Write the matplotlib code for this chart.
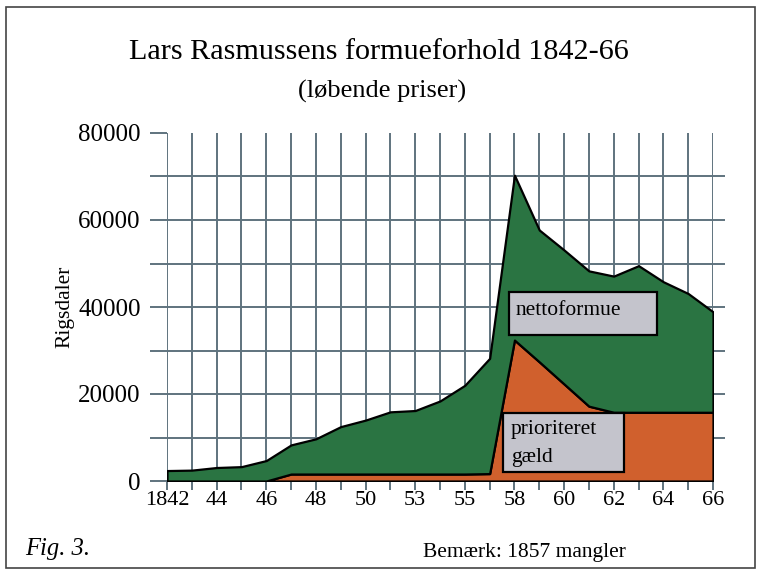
import matplotlib
matplotlib.use("Agg")
import matplotlib.pyplot as plt
from matplotlib.patches import Rectangle
import numpy as np

plt.rcParams['font.family'] = ['Liberation Serif', 'DejaVu Serif']

# aar (1857 mangler)
years = [1842, 1843, 1844, 1845, 1846, 1847, 1848, 1849, 1850, 1851, 1853,
         1854, 1855, 1856, 1858, 1859, 1860, 1861, 1862, 1863, 1864, 1865, 1866]
tick_labels = ['1842', '44', '46', '48', '50', '53', '55', '58', '60', '62', '64', '66']

gaeld = [0, 0, 0, 0, 0, 1600, 1600, 1600, 1600, 1600, 1600,
         1600, 1600, 1700, 32400, 27400, 22300, 17200, 15800, 15800, 15800, 15800, 15800]
nettoformue = [2400, 2500, 3100, 3300, 4700, 6700, 8100, 10900, 12400, 14300, 14600,
               16800, 20400, 26500, 37900, 30300, 30800, 31100, 31300, 33700, 30000, 27300, 23100]

green = '#2a7442'
orange = '#d0602d'
gridc = '#5f737e'
boxc = '#c4c4cc'

fig = plt.figure(figsize=(7.62, 5.74), dpi=100)
ax = fig.add_axes([167/762, 1-481/574, 546/762, 348/574])

x = np.arange(len(years))
ax.stackplot(x, gaeld, nettoformue, colors=[orange, green],
             edgecolor='black', linewidth=1.6, zorder=3)

ax.set_xlim(0, len(years)-1)
ax.set_ylim(0, 80000)

# gitter
for i in x:
    ax.axvline(i, color=gridc, lw=1.4, zorder=1)
ax.hlines(np.arange(10000, 80000, 10000), 0, 22.5, color=gridc, lw=1.4,
          zorder=1, clip_on=False)

ax.set_xticks(x[::2])
ax.set_xticklabels(tick_labels, fontsize=16)
ax.set_xticks(x, minor=True)
ax.tick_params(axis='x', which='both', length=6.5, width=1.4, color=gridc, pad=1)

ax.set_yticks(np.arange(0, 80001, 10000), minor=True)
ax.set_yticks(np.arange(0, 80001, 20000))
ax.set_yticklabels(['0', '20000', '40000', '60000', '80000'], fontsize=18)
ax.tick_params(axis='y', which='both', length=12, width=1.4, color=gridc, pad=7)

for s in ax.spines.values():
    s.set_visible(False)

# etiketter
ax.add_patch(Rectangle((13.78, 33560), 5.96, 9890, facecolor=boxc,
                       edgecolor='black', lw=1.6, zorder=4))
ax.text(14.05, 39200, 'nettoformue', fontsize=15.5, va='center', zorder=5)
ax.add_patch(Rectangle((13.54, 2070), 4.87, 13560, facecolor=boxc,
                       edgecolor='black', lw=1.6, zorder=4))
ax.text(13.85, 11900, 'prioriteret', fontsize=15.5, va='center', zorder=5)
ax.text(13.85, 5300, 'gæld', fontsize=15.5, va='center', zorder=5)

fig.text(379/762, 1-52/574, 'Lars Rasmussens formueforhold 1842-66',
         fontsize=21.7, ha='center', va='center')
fig.text(382/762, 1-91/574, '(løbende priser)', fontsize=19, ha='center', va='center')
fig.text(65/762, 1-307/574, 'Rigsdaler', fontsize=15.5, rotation=90,
         ha='center', va='center')
fig.text(25/762, 1-549/574, 'Fig. 3.', fontsize=17.7, style='italic', va='center')
fig.text(524/762, 1-552/574, 'Bemærk: 1857 mangler', fontsize=15.5,
         ha='center', va='center')

fig.add_artist(Rectangle((6/762, 6/574), 749/762, 561/574, transform=fig.transFigure,
                         fill=False, edgecolor='#444444', lw=1.2))

fig.savefig('out.png', dpi=100)
